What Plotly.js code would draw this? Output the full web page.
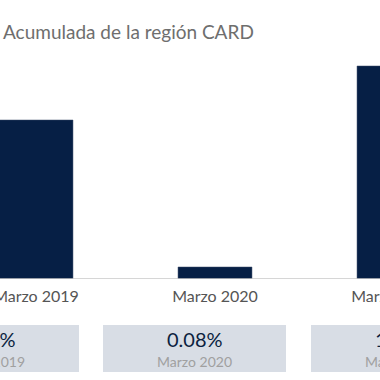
<!DOCTYPE html>
<html>
<head>
<meta charset="utf-8">
<script src="https://cdn.plot.ly/plotly-3.0.1.min.js"></script>
<style>
html,body{margin:0;padding:0;width:380px;height:380px;overflow:hidden;background:#fff;}
#chart{position:absolute;left:-70px;top:0;width:520px;height:380px;}
</style>
</head>
<body>
<div id="chart"></div>
<script>
// Data
const categories = ["Marzo 2019", "Marzo 2020", "Marzo 2021"];
const values = [1.06, 0.08, 1.42];
const titleText = "Acumulada de la región CARD";

// Layout helpers (viewport pixels -> paper fractions)
const OFFSET = 70, W = 520, PT = 50, PB = 279;
const px = v => (v + OFFSET) / W;
const py = v => (PB - v) / (PB - PT);

const barColor = "#061f45";
const fontFam = "Lato, 'Open Sans', sans-serif";

const boxCenters = [-12.5, 194.5, 402.5];
const boxW = 183;
const shapes = [];
const annotations = [];
categories.forEach((c, i) => {
  const cx = boxCenters[i];
  shapes.push({
    type: "rect", xref: "paper", yref: "paper",
    x0: px(cx - boxW / 2), x1: px(cx + boxW / 2),
    y0: py(372), y1: py(325),
    fillcolor: "#d8dde5", line: {width: 0}, layer: "below"
  });
  annotations.push({
    xref: "paper", yref: "paper", x: px(cx), y: py(339),
    xanchor: "center", yanchor: "middle", showarrow: false,
    text: values[i].toFixed(2) + "%",
    font: {family: fontFam, size: 20, color: "#0b1f40"}
  });
  annotations.push({
    xref: "paper", yref: "paper", x: px(cx), y: py(361),
    xanchor: "center", yanchor: "middle", showarrow: false,
    text: c,
    font: {family: fontFam, size: 14, color: "#a0a0a0"}
  });
});

const trace = {
  type: "bar",
  x: categories.map((c, i) => i),
  y: values,
  width: 0.413,
  marker: {color: barColor, line: {color: "#3a4a66", width: 0.5}},
  hoverinfo: "none"
};

const layout = {
  width: W, height: 380,
  margin: {l: 0, r: 0, t: PT, b: 380 - PB},
  paper_bgcolor: "#fff", plot_bgcolor: "#fff",
  showlegend: false,
  title: {
    text: titleText, xref: "container", yref: "container",
    x: px(3), xanchor: "left", y: 1 - 32 / 380, yanchor: "middle",
    font: {family: fontFam, size: 19, color: "#6e6e6e"}
  },
  xaxis: {
    range: [1 - (215 + OFFSET) / 179, 1 + (450 - 215) / 179],
    tickmode: "array", tickvals: [0, 1, 2], ticktext: categories,
    showgrid: false, zeroline: false, showline: false, ticks: "",
    ticklabelstandoff: 6,
    tickfont: {family: fontFam, size: 16, color: "#555"},
    fixedrange: true
  },
  yaxis: {
    range: [0, 229 / 150],
    visible: false, showgrid: false, zeroline: false, fixedrange: true
  },
  shapes: shapes.concat([{
    type: "line", xref: "paper", yref: "y", x0: 0, x1: 1, y0: 0, y1: 0,
    line: {color: "#c8c8c8", width: 1.5}, layer: "above"
  }]),
  annotations: annotations
};

Plotly.newPlot("chart", [trace], layout, {displayModeBar: false, staticPlot: true});
</script>
</body>
</html>
